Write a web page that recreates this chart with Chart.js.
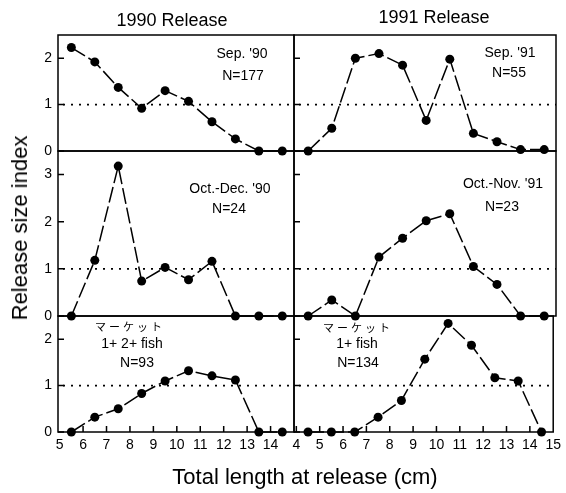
<!DOCTYPE html>
<html>
<head>
<meta charset="utf-8">
<script src="https://cdn.jsdelivr.net/npm/chart.js@4"></script>
<style>
  body { margin: 0; background: #fff; }
  #wrap { position: relative; width: 566px; height: 493px; overflow: hidden; font-family: "Liberation Sans", Arial, sans-serif; color: #000; }
  canvas { position: absolute; left: 0; top: 0; }
  .t { position: absolute; transform: translate(-50%, -50%); white-space: nowrap; line-height: 1; }
  .ann { font-size: 14px; }
  .jp { font-family: "Noto Sans CJK JP", sans-serif; font-size: 11px; letter-spacing: 3px; }
</style>
</head>
<body>
<div id="wrap">
  <canvas id="c1" width="566" height="493"></canvas>
  <canvas id="c2" width="566" height="493"></canvas>
  <canvas id="c3" width="566" height="493"></canvas>
  <canvas id="c4" width="566" height="493"></canvas>
  <canvas id="c5" width="566" height="493"></canvas>
  <canvas id="c6" width="566" height="493"></canvas>

  <div class="t" style="left:172px;top:20px;font-size:18px">1990 Release</div>
  <div class="t" style="left:434px;top:17px;font-size:18px">1991 Release</div>
  <div class="t" style="left:20px;top:228px;font-size:22px;transform:translate(-50%,-50%) rotate(-90deg)">Release size index</div>
  <div class="t" style="left:305px;top:477px;font-size:22px">Total length at release (cm)</div>

  <div class="t ann" style="left:242px;top:53px">Sep. '90</div>
  <div class="t ann" style="left:243px;top:75px">N=177</div>
  <div class="t ann" style="left:510px;top:52px">Sep. '91</div>
  <div class="t ann" style="left:509px;top:72px">N=55</div>
  <div class="t ann" style="left:230px;top:188px">Oct.-Dec. '90</div>
  <div class="t ann" style="left:229px;top:208px">N=24</div>
  <div class="t ann" style="left:503px;top:183px">Oct.-Nov. '91</div>
  <div class="t ann" style="left:502px;top:206px">N=23</div>
  <div class="t jp" style="left:130px;top:326px">マーケット</div>
  <div class="t ann" style="left:132px;top:343px">1+ 2+ fish</div>
  <div class="t ann" style="left:137px;top:362px">N=93</div>
  <div class="t jp" style="left:358px;top:327px">マーケット</div>
  <div class="t ann" style="left:357px;top:343px">1+ fish</div>
  <div class="t ann" style="left:358px;top:362px">N=134</div>
</div>

<script>
// longueurs (cm) : milieux des classes
const lengths90 = [5.5, 6.5, 7.5, 8.5, 9.5, 10.5, 11.5, 12.5, 13.5, 14.5];
const lengths91 = [4.5, 5.5, 6.5, 7.5, 8.5, 9.5, 10.5, 11.5, 12.5, 13.5, 14.5];

// indices de taille au lacher
const sep90 = [2.23, 1.92, 1.37, 0.92, 1.30, 1.07, 0.63, 0.26, 0, 0];
const sep91 = [0, 0.49, 2.0, 2.1, 1.85, 0.66, 1.98, 0.38, 0.2, 0.03, 0.03];
const octDec90 = [0, 1.18, 3.18, 0.74, 1.03, 0.77, 1.16, 0, 0, 0];
const octNov91 = [0, 0.34, 0, 1.25, 1.65, 2.02, 2.17, 1.05, 0.67, 0, 0];
const market90 = [0, 0.32, 0.5, 0.83, 1.1, 1.32, 1.21, 1.12, 0, 0];
const market91 = [0, 0, 0, 0.32, 0.68, 1.57, 2.34, 1.87, 1.17, 1.1, 0];

// graduations
const xTicks90 = [5, 6, 7, 8, 9, 10, 11, 12, 13, 14];
const xTicks91 = [4, 5, 6, 7, 8, 9, 10, 11, 12, 13, 14, 15];
const yTicksSmall = [0, 1, 2];
const yTicksBig = [0, 1, 2, 3];
const refLevel = 1;

const FONT = { family: '"Liberation Sans", Arial, sans-serif', size: 14 };
const W = 566, H = 493;

// cadre, graduations internes et ligne pointillee a 1
const frameTicks = {
    id: 'frameTicks',
    beforeDatasetsDraw(chart, args, opts) {
        const { ctx, chartArea: a, scales: { x, y } } = chart;
        ctx.save();
        ctx.strokeStyle = '#000';

        ctx.lineWidth = 1.6;
        ctx.setLineDash([2, 6]);
        const ry = y.getPixelForValue(refLevel);
        ctx.beginPath();
        ctx.moveTo(a.left + 5, ry);
        ctx.lineTo(a.right, ry);
        ctx.stroke();
        ctx.setLineDash([]);

        ctx.lineWidth = 1.5;
        ctx.strokeRect(a.left, a.top, a.width, a.height);

        ctx.beginPath();
        y.ticks.forEach(t => {
            const py = y.getPixelForValue(t.value);
            ctx.moveTo(a.left, py);
            ctx.lineTo(a.left + 6, py);
        });
        if (opts.xTicks) {
            x.ticks.forEach(t => {
                const px = x.getPixelForValue(t.value);
                if (px > a.left + 2 && px < a.right - 2) {
                    ctx.moveTo(px, a.bottom);
                    ctx.lineTo(px, a.bottom - 6);
                }
            });
        }
        ctx.stroke();
        ctx.restore();
    }
};

// box = [gauche, haut, droite, bas] de la zone de trace
function panel(id, box, xs, ys, xRange, yMax, xTicks, yTicks, showX, showY) {
    const yw = showY ? box[0] : 0;
    const xh = showX ? H - box[3] : 0;
    new Chart(document.getElementById(id), {
        type: 'line',
        data: {
            datasets: [{
                data: xs.map((v, i) => ({ x: v, y: ys[i] })),
                borderColor: '#000',
                borderWidth: 1.5,
                borderDash: [16, 4],
                pointRadius: 4.5,
                pointBackgroundColor: '#000',
                pointBorderWidth: 0,
                tension: 0,
                clip: false
            }]
        },
        options: {
            responsive: false,
            animation: false,
            layout: { padding: { left: box[0] - yw, top: box[1], right: W - box[2], bottom: H - box[3] - xh } },
            plugins: { legend: { display: false }, tooltip: { enabled: false }, frameTicks: { xTicks: showX } },
            scales: {
                x: {
                    type: 'linear',
                    min: xRange[0],
                    max: xRange[1],
                    afterFit: s => { s.height = xh; },
                    afterBuildTicks: s => { s.ticks = xTicks.map(v => ({ value: v })); },
                    grid: { display: false, drawTicks: false },
                    border: { display: false },
                    ticks: { display: showX, padding: 5, color: '#000', font: FONT, autoSkip: false, maxRotation: 0 }
                },
                y: {
                    min: 0,
                    max: yMax,
                    afterFit: s => { s.width = yw; },
                    afterBuildTicks: s => { s.ticks = yTicks.map(v => ({ value: v })); },
                    grid: { display: false, drawTicks: false },
                    border: { display: false },
                    ticks: { display: showY, padding: 6, color: '#000', font: FONT }
                }
            }
        },
        plugins: [frameTicks]
    });
}

const L = [58, 294], R = [294, 556];
const rows = [[35, 151], [151, 316], [316, 432]];
const range90 = [4.93, 15.0], range91 = [3.9, 15.0];

panel('c1', [L[0], rows[0][0], L[1], rows[0][1]], lengths90, sep90, range90, 2.5, xTicks90, yTicksSmall, false, true);
panel('c2', [R[0], rows[0][0], R[1], rows[0][1]], lengths91, sep91, range91, 2.5, xTicks91, yTicksSmall, false, false);
panel('c3', [L[0], rows[1][0], L[1], rows[1][1]], lengths90, octDec90, range90, 3.5, xTicks90, yTicksBig, false, true);
panel('c4', [R[0], rows[1][0], R[1], rows[1][1]], lengths91, octNov91, range91, 3.5, xTicks91, yTicksBig, false, false);
panel('c5', [L[0], rows[2][0], L[1], rows[2][1]], lengths90, market90, range90, 2.5, xTicks90, yTicksSmall, true, true);
panel('c6', [R[0], rows[2][0], R[1], rows[2][1]], lengths91, market91, range91, 2.5, xTicks91, yTicksSmall, true, false);
</script>
</body>
</html>
